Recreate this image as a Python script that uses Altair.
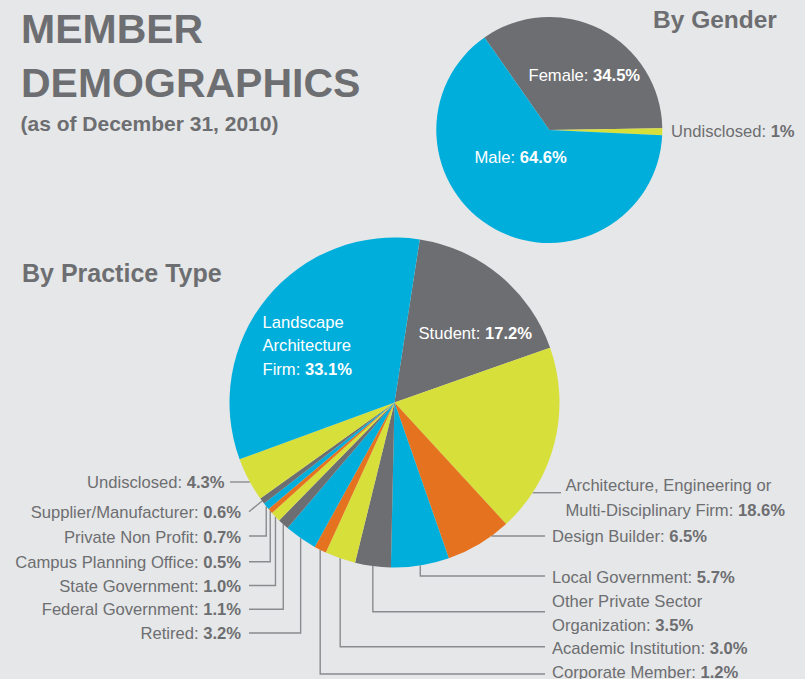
import math
import altair as alt
import pandas as pd

# ---------------- data ----------------
title_lines = ["MEMBER", "DEMOGRAPHICS"]
subtitle = "(as of December 31, 2010)"
gender_title = "By Gender"
practice_title = "By Practice Type"

gender_names = ["Female", "Undisclosed", "Male"]
gender_values = [34.5, 1.0, 64.6]

practice_names = [
    "Student",
    "Architecture, Engineering or Multi-Disciplinary Firm",
    "Design Builder",
    "Local Government",
    "Other Private Sector Organization",
    "Academic Institution",
    "Corporate Member",
    "Retired",
    "Federal Government",
    "State Government",
    "Campus Planning Office",
    "Private Non Profit",
    "Supplier/Manufacturer",
    "Undisclosed",
    "Landscape Architecture Firm",
]
practice_values = [17.2, 18.6, 6.5, 5.7, 3.5, 3.0, 1.2, 3.2, 1.1, 1.0, 0.5, 0.7, 0.6, 4.3, 33.1]

# ---------------- style / layout ----------------
W, H = 805, 679
BG = "#E6E7E8"
TXT = "#6D6E71"
LEAD = "#8A8B8E"
BLUE, GRAY, YELLOW, ORANGE = "#00AEDB", "#6D6E71", "#D7DF3B", "#E5721E"
SANS = "Liberation Sans, Arial, Helvetica, sans-serif"
FS = 16.6

gender_colors = [GRAY, YELLOW, BLUE]
practice_colors = [GRAY, YELLOW, ORANGE, BLUE, GRAY, YELLOW, ORANGE, BLUE,
                   GRAY, YELLOW, ORANGE, BLUE, GRAY, YELLOW, BLUE]

GENDER_PIE = dict(cx=549.3, cy=130.0, r=113.0, start=-35.0)
PRACTICE_PIE = dict(cx=394.5, cy=402.5, r=165.0, start=8.8)

gender_layout = {
    "Female": dict(lines=["Female"], x=528.5, ys=[75.0], align="left", color="white"),
    "Male": dict(lines=["Male"], x=474.5, ys=[156.7], align="left", color="white"),
    "Undisclosed": dict(lines=["Undisclosed"], x=671.0, ys=[130.7], align="left", color=TXT),
}

practice_layout = {
    "Student": dict(lines=["Student"], x=418.5, ys=[333.3], align="left", color="white"),
    "Landscape Architecture Firm": dict(lines=["Landscape", "Architecture", "Firm"], x=262.5,
                                        ys=[321.7, 345.0, 369.3], align="left", color="white"),
    "Architecture, Engineering or Multi-Disciplinary Firm": dict(
        lines=["Architecture, Engineering or", "Multi-Disciplinary Firm"], x=565.5, ys=[485.0, 510.0],
        align="left", color=TXT, leader=("h", 492.7, 561.0)),
    "Design Builder": dict(lines=["Design Builder"], x=552.0, ys=[536.0], align="left", color=TXT,
                           leader=("h", 536.0, 545.0)),
    "Local Government": dict(lines=["Local Government"], x=552.0, ys=[576.7], align="left", color=TXT,
                             leader=("v", 576.0, 545.0)),
    "Other Private Sector Organization": dict(lines=["Other Private Sector", "Organization"], x=552.0,
                                              ys=[600.7, 625.0], align="left", color=TXT,
                                              leader=("v", 611.7, 545.0)),
    "Academic Institution": dict(lines=["Academic Institution"], x=552.0, ys=[648.3], align="left",
                                 color=TXT, leader=("v", 646.7, 545.0)),
    "Corporate Member": dict(lines=["Corporate Member"], x=552.0, ys=[671.7], align="left", color=TXT,
                             leader=("v", 674.0, 545.0)),
    "Undisclosed": dict(lines=["Undisclosed"], x=224.5, ys=[482.3], align="right", color=TXT,
                        leader=("h", 482.0, 230.0)),
    "Supplier/Manufacturer": dict(lines=["Supplier/Manufacturer"], x=241.0, ys=[511.7], align="right",
                                  color=TXT, leader=("d", 511.7, 249.0)),
    "Private Non Profit": dict(lines=["Private Non Profit"], x=241.0, ys=[536.7], align="right",
                               color=TXT, leader=("v", 536.0, 249.0)),
    "Campus Planning Office": dict(lines=["Campus Planning Office"], x=241.0, ys=[561.7], align="right",
                                   color=TXT, leader=("v", 561.7, 249.0)),
    "State Government": dict(lines=["State Government"], x=241.0, ys=[586.0], align="right",
                             color=TXT, leader=("v", 585.5, 249.0)),
    "Federal Government": dict(lines=["Federal Government"], x=241.0, ys=[609.3], align="right",
                               color=TXT, leader=("v", 609.3, 249.0)),
    "Retired": dict(lines=["Retired"], x=241.0, ys=[633.3], align="right", color=TXT,
                    leader=("v", 633.0, 249.0)),
}

# Arial / Liberation Sans advance widths (1/1000 em)
_CW = {" ": 278, "!": 278, "%": 889, "(": 333, ")": 333, ",": 278, "-": 333, ".": 278, "/": 278, ":": 278}
for d in "0123456789":
    _CW[d] = 556
_CW.update(dict(zip("ABCDEFGHIJKLMNOPQRSTUVWXYZ",
                    [667, 667, 722, 722, 667, 611, 778, 722, 278, 500, 667, 556, 833, 722, 778, 667, 778,
                     722, 667, 611, 722, 667, 944, 667, 667, 611])))
_CW.update(dict(zip("abcdefghijklmnopqrstuvwxyz",
                    [556, 556, 500, 556, 556, 278, 556, 556, 222, 222, 500, 222, 833, 556, 556, 556, 556,
                     333, 500, 278, 556, 500, 722, 500, 500, 500])))


def text_width(s, size=FS):
    return sum(_CW.get(c, 556) for c in s) / 1000.0 * size


def pie_geometry(values, pie):
    total = float(sum(values))
    mids, acc = [], 0.0
    for v in values:
        a0 = pie["start"] + 360.0 * acc / total
        a1 = pie["start"] + 360.0 * (acc + v) / total
        mids.append(math.radians((a0 + a1) / 2.0))
        acc += v
    return mids


# ---------------- build tables ----------------
xs = alt.Scale(domain=[0, W], nice=False, zero=False)
ys = alt.Scale(domain=[0, H], nice=False, zero=False, reverse=True)

text_rows = []


def add_text(x, y_center, text, weight, align, color, size=FS, font=SANS):
    text_rows.append(dict(x=x, y=y_center + 0.358 * size, text=text, weight=weight, align=align,
                          color=color, size=size, font=font))


def add_labels(names, values, layout, fmt):
    for name, v in zip(names, values):
        lay = layout[name]
        val = fmt(v)
        n = len(lay["lines"])
        for i, line in enumerate(lay["lines"]):
            yc = lay["ys"][i]
            if i < n - 1:
                add_text(lay["x"], yc, line, "normal", lay["align"], lay["color"])
                continue
            if lay["align"] == "left":
                add_text(lay["x"], yc, line + ":", "normal", "left", lay["color"])
                add_text(lay["x"] + text_width(line + ": "), yc, val, "bold", "left", lay["color"])
            else:
                add_text(lay["x"], yc, val, "bold", "right", lay["color"])
                add_text(lay["x"] - text_width(val) - text_width(" "), yc, line + ":", "normal", "right",
                         lay["color"])


add_labels(gender_names, gender_values, gender_layout, lambda v: f"{v:g}%")
add_labels(practice_names, practice_values, practice_layout, lambda v: f"{v:.1f}%")

# titles
add_text(21.0, 28.4, title_lines[0], "bold", "left", TXT, size=41, font=SANS)
add_text(21.0, 82.1, title_lines[1], "bold", "left", TXT, size=41, font=SANS)
add_text(20.5, 123.7, subtitle, "bold", "left", TXT, size=21, font=SANS)
add_text(653.0, 19.5, gender_title, "bold", "left", TXT, size=24.5, font=SANS)
add_text(22.0, 273.5, practice_title, "bold", "left", TXT, size=25, font=SANS)

text_df = pd.DataFrame(text_rows)

# leader lines
line_rows = []
mids = pie_geometry(practice_values, PRACTICE_PIE)
P = PRACTICE_PIE
for idx, (name, mid) in enumerate(zip(practice_names, mids)):
    lay = practice_layout[name]
    if "leader" not in lay:
        continue
    kind, ly, endx = lay["leader"]
    ex = P["cx"] + P["r"] * math.sin(mid)
    ey = P["cy"] - P["r"] * math.cos(mid)
    if kind == "h":
        dx = math.sqrt(max(P["r"] ** 2 - (ly - P["cy"]) ** 2, 0.0))
        edge = P["cx"] + dx if endx > P["cx"] else P["cx"] - dx
        pts = [(endx, ly), (edge, ly)]
    elif kind == "v":
        pts = [(ex, ey), (ex, ly), (endx, ly)]
    else:
        pts = [(endx, ly), (ex, ey)]
    for k, (px, py) in enumerate(pts):
        line_rows.append(dict(lid=name, k=k, x=px, y=py))
line_df = pd.DataFrame(line_rows)


def pie_df(names, values, colors, pie):
    return pd.DataFrame(dict(name=names, value=values, color=colors, idx=list(range(len(names))),
                             cx=pie["cx"], cy=pie["cy"]))


def pie_layer(df, pie):
    s = math.radians(pie["start"])
    return alt.Chart(df).mark_arc(radius=pie["r"]).encode(
        x=alt.X("cx:Q", scale=xs, axis=None),
        y=alt.Y("cy:Q", scale=ys, axis=None),
        theta=alt.Theta("value:Q", stack=True, scale=alt.Scale(range=[s, s + 2 * math.pi])),
        color=alt.Color("color:N", scale=None),
        order=alt.Order("idx:Q", sort="ascending"),
    )


lines = alt.Chart(line_df).mark_line(color=LEAD, strokeWidth=1.4).encode(
    x=alt.X("x:Q", scale=xs, axis=None),
    y=alt.Y("y:Q", scale=ys, axis=None),
    detail="lid:N",
    order="k:Q",
)

layers = [lines,
          pie_layer(pie_df(gender_names, gender_values, gender_colors, GENDER_PIE), GENDER_PIE),
          pie_layer(pie_df(practice_names, practice_values, practice_colors, PRACTICE_PIE), PRACTICE_PIE)]

for (font, weight, size, align, color), g in text_df.groupby(["font", "weight", "size", "align", "color"]):
    layers.append(
        alt.Chart(g.reset_index(drop=True)).mark_text(
            font=font, fontWeight=weight, fontSize=float(size), align=align, baseline="alphabetic",
            color=color,
        ).encode(
            x=alt.X("x:Q", scale=xs, axis=None),
            y=alt.Y("y:Q", scale=ys, axis=None),
            text="text:N",
        )
    )

chart = alt.layer(*layers).resolve_scale(theta="independent").properties(
    width=W, height=H, padding=0, autosize=alt.AutoSizeParams(type="none"), background=BG,
).configure_view(stroke=None)

chart.save("out.html", embed_options={"renderer": "svg", "actions": False})
